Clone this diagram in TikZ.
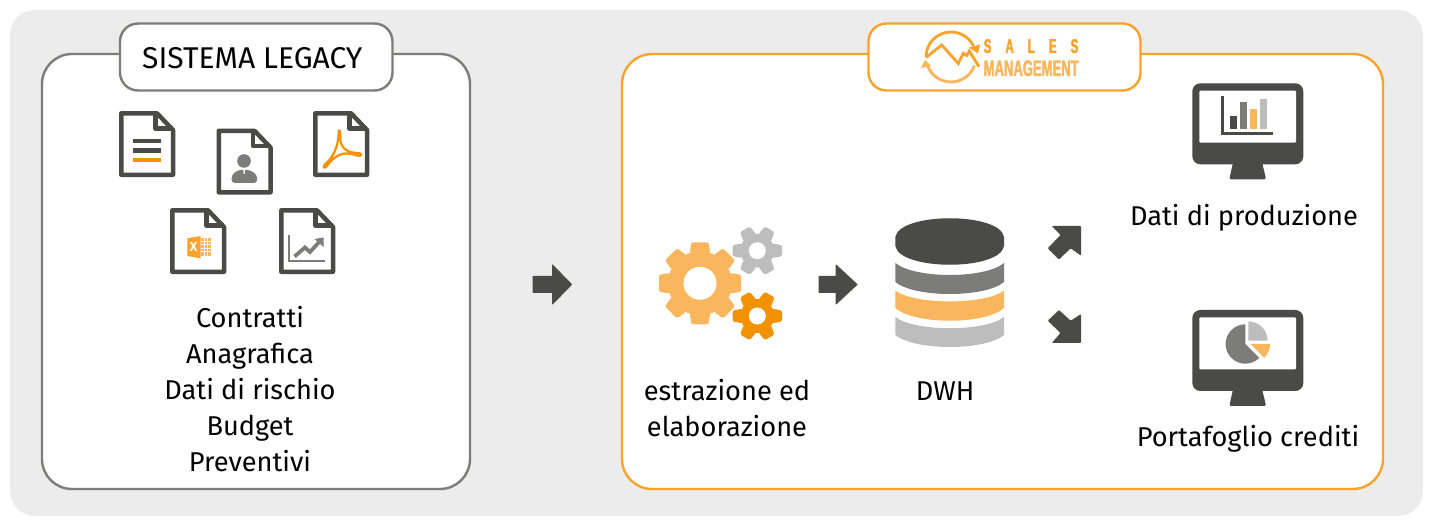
\documentclass[tikz,border=0pt]{standalone}
\usepackage{fontspec}
\setmainfont{Fira Sans}
\newfontfamily\logofont[UprightFont=* Bold,FakeStretch=0.58,FakeBold=1.6]{Liberation Sans}
\definecolor{dark}{HTML}{4A4A49}
\definecolor{midgrey}{HTML}{7C7C7B}
\definecolor{lightgrey}{HTML}{BDBDBD}
\definecolor{orng}{HTML}{F39200}
\definecolor{lightorng}{HTML}{FAB65C}
\definecolor{frameorng}{HTML}{F9A22E}
\definecolor{bgrey}{HTML}{ECECEC}
\newcommand\gearicon[8]{% x,y,teeth,outer,root,hole,colour,top half/base half
  \begin{scope}[shift={(#1,#2)},y=1pt]
    \fill[#7] (0,0) circle[radius=#5];
    \foreach \a in {1,...,#3}{
      \fill[#7,rounded corners=1.5pt,rotate={(\a-1)*360/#3}]
        (#5-2,-#8-1.8) -- (#4,-#8) -- (#4,#8) -- (#5-2,#8+1.8) -- cycle;
    }
    \fill[white] (0,0) circle[radius=#6];
  \end{scope}}
\tikzset{
  x=1pt,y=-1pt,
  labeltext/.style={font=\fontsize{27.2}{30}\selectfont,anchor=base,inner sep=0pt,text=black},
  cardframe/.style={line width=2.4pt,rounded corners=30pt,fill=white},
  titleframe/.style={line width=2.4pt,rounded corners=18pt,fill=white},
  blockarrow/.style={fill=dark,draw=dark,line width=1pt,line join=round},
  pics/docicon/.style={code={
    \draw[dark,line width=4.5pt,line join=round,fill=white]
      (2.3,2.3) -- (38,2.3) -- (54,19) -- (54,63.8) -- (2.3,63.8) -- cycle;
    \draw[dark,line width=4.5pt,line join=round] (36.5,2.3) -- (36.5,17.5) -- (54,17.5);
  }},
  pics/monitor/.style={code={
    \fill[dark,rounded corners=8pt] (0,0) rectangle (111,81);
    \fill[dark,rounded corners=2pt] (41,78) -- (69.5,78) -- (73.8,96) -- (37,96) -- cycle;
    \fill[white,rounded corners=1pt] (7,7.4) rectangle (103.7,59.4);
  }}
}
\begin{document}
\begin{tikzpicture}
\useasboundingbox (0,0) rectangle (1433,526);
\fill[bgrey,rounded corners=25pt] (10,10) rectangle (1423,516);
% left panel
\draw[midgrey,cardframe] (42,54) rectangle (470,489);
\draw[midgrey,titleframe] (120,23.5) rectangle (392.5,90.5);
\node[labeltext,font=\fontsize{30}{32}\selectfont,anchor=base west] (legacy) at (142,68.3) {SISTEMA LEGACY};
\pic at (119,111) {docicon};
\pic at (216.5,128.5) {docicon};
\pic at (313,111) {docicon};
\pic at (170,208) {docicon};
\pic at (279,208) {docicon};
% doc 1 lines
\fill[dark] (132.7,139) rectangle (161,143.5);
\fill[dark] (132.7,148.3) rectangle (161,152.8);
\fill[orng] (132.7,157.6) rectangle (161,162.1);
% doc 2 person
\fill[midgrey] (244,161) circle[radius=6.8];
\fill[midgrey,rounded corners=3pt] (231.7,183) -- (231.7,175) -- (238,170) -- (250,170) -- (257,175) -- (257,183) -- cycle;
\fill[white] (243.3,169.5) -- (245,169.5) -- (244.7,174) -- (243.6,174) -- cycle;
% doc 3 acrobat
\draw[orng,line width=2.2pt,line join=round]
  (338.7,130.5) .. controls (338.8,142) and (336,155) .. (325,164.5)
  .. controls (322,168) and (325,168.5) .. (326.5,166.5)
  .. controls (331,160) and (338,153.5) .. (346,153.5)
  .. controls (351,153.5) and (355,155) .. (359,156)
  .. controls (362,156) and (362,153) .. (358,153)
  .. controls (350,153) and (342,150) .. (340.5,141)
  .. controls (340,136) and (341,129) .. (338.7,130.5) -- cycle;
% doc 4 excel
\fill[lightorng] (200.5,238) rectangle (210.7,256);
\foreach \gy in {241,244.5,248,251.5}{\draw[white,line width=.6pt] (200.5,\gy) -- (210.7,\gy);}
\foreach \gx in {204,207.3}{\draw[white,line width=.6pt] (\gx,238) -- (\gx,256);}
\fill[frameorng] (187.3,238.3) -- (200.7,236) -- (200.7,258.3) -- (187.3,256) -- cycle;
\node[font=\bfseries\fontsize{13}{13}\selectfont,text=white,inner sep=0pt] (excelx) at (193.7,247.3) {X};
% doc 5 trend chart
\draw[midgrey,line width=1.8pt] (289.3,235) -- (289.3,260.7) -- (325,260.7);
\draw[midgrey,line width=3.8pt,line join=miter] (294.5,256.5) -- (305,247.5) -- (310,252) -- (320,241);
\fill[midgrey] (314.5,239) -- (323.5,237.5) -- (323.5,247) -- cycle;
\node[labeltext] (l1) at (250,327.7) {Contratti};
\node[labeltext] (l2) at (250,363.7) {Anagrafica};
\node[labeltext] (l3) at (250,399.7) {Dati di rischio};
\node[labeltext] (l4) at (250,435.7) {Budget};
\node[labeltext] (l5) at (250,471.7) {Preventivi};
% arrow between panels
\draw[blockarrow] (533,276.5) -- (552.5,276.5) -- (552.5,265) -- (571.5,284.5) -- (552.5,304) -- (552.5,292.5) -- (533,292.5) -- cycle;
% right panel
\draw[frameorng,cardframe] (622,54) rectangle (1383,489);
\draw[frameorng,titleframe] (868.5,23.5) rectangle (1140.5,90.5);
% logo
\begin{scope}[shift={(951,57)},y=1pt]
  \draw[frameorng,line width=2.8pt] (180:25) arc[start angle=180,end angle=26,radius=25];
  \draw[lightorng,line width=2.8pt] (-20:25) arc[start angle=-20,end angle=-165,radius=25];
\end{scope}
\fill[frameorng] (969,47.5) -- (980,44.5) -- (978,53.5) -- cycle;
\fill[lightorng] (925,60) -- (931,66) -- (921,68) -- cycle;
\draw[frameorng,line width=2.8pt,line join=miter] (926,57.5) -- (941.7,45) -- (958.3,63.5) -- (963.3,53.3) -- (966.7,55.5) -- (969.3,51) -- (979,66.7);
\node[inner sep=0pt,anchor=base west,text=frameorng,font=\logofont\fontsize{20}{20}\selectfont] (sales) at (983.5,53)
  {\spaceskip=14pt S A L E S};
\node[inner sep=0pt,anchor=base west,text=lightorng,font=\logofont\fontsize{22.5}{22.5}\selectfont] (mgmt) at (983.5,76) {MANAGEMENT};
% gears
\gearicon{700}{283.3}{8}{41}{32}{16.5}{lightorng}{8.5}
\gearicon{757.3}{250.7}{6}{24.7}{17}{8.5}{lightgrey}{5.5}
\gearicon{757.3}{316}{6}{24.7}{17}{8.5}{orng}{5.5}
\node[labeltext] (e1) at (727,400.7) {estrazione ed};
\node[labeltext] (e2) at (727,436.7) {elaborazione};
% arrow gears to db
\draw[blockarrow] (819,276.5) -- (836,276.5) -- (836,265) -- (857,284.5) -- (836,304) -- (836,292.5) -- (819,292.5) -- cycle;
% database
\fill[dark] (895.3,237) .. controls (900,212) and (1000,212) .. (1004,237) -- (1004,246) .. controls (1000,271) and (900,271) .. (895.3,246) -- cycle;
\fill[midgrey] (895.3,263) .. controls (915,279) and (985,279) .. (1004,263) -- (1004,282) .. controls (985,298) and (915,298) .. (895.3,282) -- cycle;
\fill[lightorng] (895.3,290.7) .. controls (915,305) and (985,305) .. (1004,290.7) -- (1004,308) .. controls (985,325) and (915,325) .. (895.3,308) -- cycle;
\fill[lightgrey] (895.3,317) .. controls (915,332) and (985,332) .. (1004,317) -- (1004,335) .. controls (985,351) and (915,351) .. (895.3,335) -- cycle;
\node[labeltext] (dwh) at (945,400.7) {DWH};
% diagonal arrows
\fill[dark,rounded corners=1pt] (1051.7,226) -- (1081,226) -- (1081,255.7) -- (1070.7,248.3) -- (1059,259.5) -- (1047.7,248.3) -- (1060.5,235) -- cycle;
\fill[dark,rounded corners=1pt] (1051.7,343) -- (1081,343) -- (1081,314) -- (1070.7,320.7) -- (1059,310) -- (1047.7,320.7) -- (1060.5,333) -- cycle;
% monitors
\pic at (1192.3,83.3) {monitor};
\fill[dark] (1221.3,96) rectangle (1223.6,135);
\fill[dark] (1221.3,132) rectangle (1273,135);
\fill[dark] (1230,115.7) rectangle (1237,128.7);
\fill[midgrey] (1240.3,102.3) rectangle (1246.7,128.7);
\fill[lightorng] (1250,109) rectangle (1256.7,128.7);
\fill[lightgrey] (1260,99) rectangle (1266.7,128.7);
\node[labeltext] (m1) at (1244,225.7) {Dati di produzione};
\pic at (1192.3,310) {monitor};
\begin{scope}[shift={(1245.3,344)},y=1pt]
  \fill[midgrey] (0,0) -- (0,19.7) arc[start angle=90,end angle=315,radius=19.7] -- cycle;
\end{scope}
\begin{scope}[shift={(1248.3,340.7)},y=1pt]
  \fill[lightgrey] (0,0) -- (19.3,0) arc[start angle=0,end angle=90,radius=19.3] -- cycle;
\end{scope}
\begin{scope}[shift={(1250.7,344)},y=1pt]
  \fill[lightorng] (0,0) -- (19.3,0) arc[start angle=0,end angle=-46,radius=19.3] -- cycle;
\end{scope}
\node[labeltext] (m2) at (1248,446.7) {Portafoglio crediti};
\end{tikzpicture}
\end{document}
